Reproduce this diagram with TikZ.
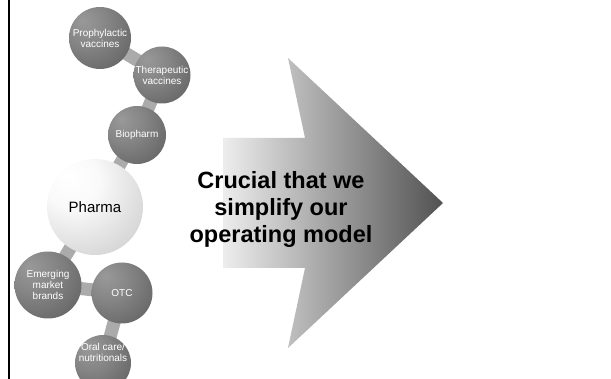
\documentclass[tikz,border=0pt]{standalone}
\usepackage{fontspec}
\setmainfont{Liberation Sans}
\pgfdeclareradialshading{dball}{\pgfpoint{-14bp}{14bp}}{color(0bp)=(black!40); color(18bp)=(black!48); color(40bp)=(black!60); color(62bp)=(black!70); color(100bp)=(black!70)}
\pgfdeclareradialshading{lball}{\pgfpoint{-14bp}{16bp}}{color(0bp)=(white); color(14bp)=(black!2); color(38bp)=(black!16); color(62bp)=(black!38); color(100bp)=(black!38)}
\tikzset{
  sphere/.style={circle, inner sep=0pt, shade, shading=dball, text=white, align=center,
    font=\fontsize{10}{11}\selectfont},
  bigsphere/.style={circle, inner sep=0pt, shade, shading=lball, text=black, align=center,
    font=\fontsize{15}{17}\selectfont},
  link/.style={line width=13pt, draw=black!33},
  arrowtext/.style={inner sep=0pt, align=center, font=\bfseries\fontsize{23.5}{27}\selectfont}
}
\begin{document}
\begin{tikzpicture}[x=1pt,y=-1pt]
\clip (0,0) rectangle (611,379);
\fill[white] (0,0) rectangle (611,379);
% frame line
\draw[line width=2pt] (8.5,-2) -- (8.5,381);
% arrow
\shade[left color=black!7, right color=black!68]
  (223,138) -- (305,138) -- (288,58) -- (443,203) -- (288,348) -- (305,268) -- (223,268) -- cycle;
\node[arrowtext] (msg) at (281,209) {Crucial that we\\simplify our\\operating model};
% sphere centres
\coordinate (cproph) at (100,38);
\coordinate (cther) at (162,75);
\coordinate (cbio) at (137,135);
\coordinate (cpharma) at (95,207);
\coordinate (cemerg) at (48,285);
\coordinate (cotc) at (122,293);
\coordinate (coral) at (103,363);
% links
\draw[link] (cproph) -- (cther);
\draw[link] (cther) -- (cbio);
\draw[link] (cbio) -- (cpharma);
\draw[link] (cpharma) -- (cemerg);
\draw[link] (cemerg) -- (cotc);
\draw[link] (cotc) -- (coral);
% spheres
\node[sphere, minimum size=62pt] (proph) at (cproph) {Prophylactic\\vaccines};
\node[sphere, minimum size=57pt] (ther) at (cther) {Therapeutic\\vaccines};
\node[sphere, minimum size=58pt] (bio) at (cbio) {Biopharm};
\node[bigsphere, minimum size=96pt] (pharma) at (cpharma) {Pharma};
\node[sphere, minimum size=67pt] (emerg) at (cemerg) {Emerging\\market\\brands};
\node[sphere, minimum size=61pt] (otc) at (cotc) {OTC};
\node[sphere, minimum size=56pt] (oral) at (coral) {};
\node[text=white, align=center, inner sep=0pt, font=\fontsize{10}{11}\selectfont] (oraltxt) at (103,352) {Oral care/\\nutritionals};
\end{tikzpicture}
\end{document}
